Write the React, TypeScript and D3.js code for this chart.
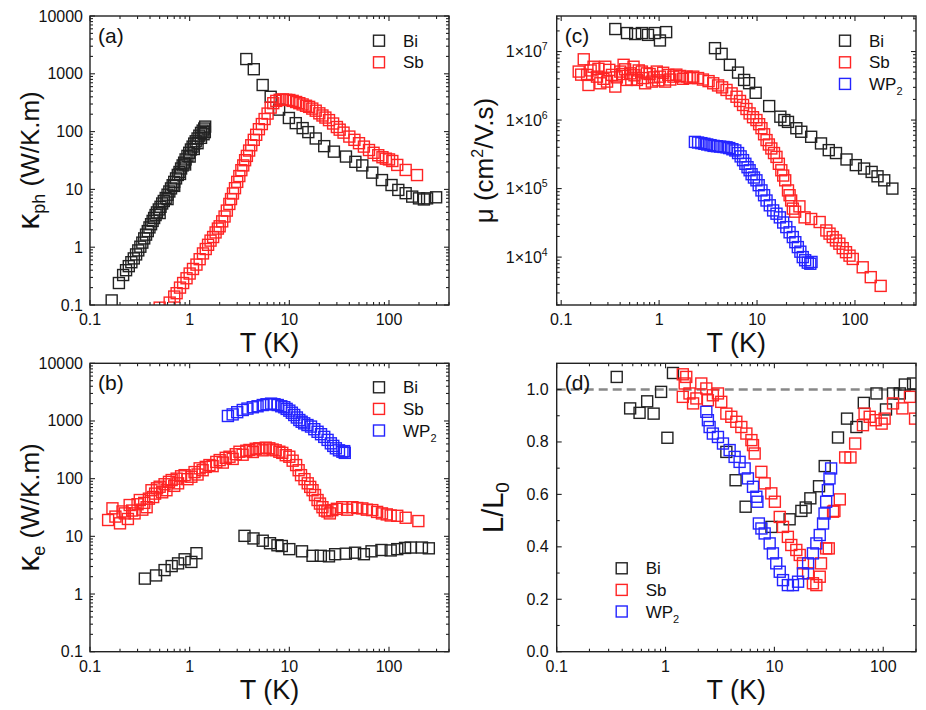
import React from 'react';
import * as d3 from 'd3';

const FONT = "'Liberation Sans', Arial, Helvetica, sans-serif";
const BLACK = '#222';
const RED = '#ff2424';
const BLUE = '#2424ff';

// ---- (a) phonon thermal conductivity, W/K.m
const aBiT = [0.165, 0.195, 0.215, 0.23, 0.245, 0.26, 0.275, 0.29, 0.305, 0.32, 0.335, 0.35, 0.365, 0.38, 0.395, 0.41, 0.425, 0.44, 0.455, 0.47, 0.49, 0.51, 0.53, 0.55, 0.575, 0.6, 0.625, 0.65, 0.675, 0.7, 0.73, 0.76, 0.79, 0.82, 0.85, 0.88, 0.91, 0.95, 0.99, 1.03, 1.07, 1.11, 1.15, 1.2, 1.25, 1.3, 1.35, 1.4, 1.43,
  0.5, 0.6, 0.7, 0.8, 0.9, 1.0, 1.1, 1.2, 1.3, 1.38, 1.42,
  3.7, 4.4, 5.4, 6.5, 7.9, 9.9, 11.6, 13.6, 15.5, 18.4, 22.4, 28, 37, 46, 54, 68, 85, 106, 124, 147, 171, 200, 224, 241, 297];
const aBiK = [0.12, 0.24, 0.33, 0.4, 0.47, 0.55, 0.64, 0.75, 0.88, 1.02, 1.2, 1.42, 1.65, 1.9, 2.2, 2.5, 2.85, 3.2, 3.6, 4.0, 4.5, 5.0, 5.7, 6.3, 7.1, 8.1, 9.2, 10.4, 11.8, 13.5, 15.5, 17.8, 20, 23, 26, 29, 33, 38, 43, 49, 55, 62, 68, 76, 85, 95, 104, 113, 122,
  3.9, 6.8, 11.5, 18.5, 27, 37, 50, 63, 78, 90, 98,
  1800, 1200, 640, 400, 240, 172, 140, 115, 98, 76, 56, 45, 37, 30, 26, 19.5, 14.5, 11.9, 9.8, 8.6, 7.5, 7.0, 6.7, 7.0, 7.3];
const aSbT = [0.5, 0.63, 0.7, 0.74, 0.8, 0.86, 0.93, 1.0, 1.08, 1.17, 1.26, 1.36, 1.45, 1.53, 1.62, 1.72, 1.82, 1.92, 2.0, 2.12, 2.24, 2.36, 2.5, 2.6, 2.72, 2.85, 3.0, 3.15, 3.3, 3.45, 3.6, 3.75, 3.95, 4.15, 4.4, 4.65, 4.95, 5.3, 5.65, 6.05, 6.5, 6.9, 7.4, 8.0, 8.6, 9.3, 10.0, 10.8, 11.7, 12.6, 13.6, 14.7, 15.8, 17, 18.4, 20, 21.5, 23, 25, 27.5, 30, 32, 35, 40, 45, 50, 56, 63, 70, 78, 86, 93, 100, 108, 121, 147, 191];
const aSbK = [0.09, 0.11, 0.14, 0.16, 0.2, 0.24, 0.29, 0.35, 0.42, 0.5, 0.62, 0.78, 0.93, 1.1, 1.3, 1.5, 1.8, 2.1, 2.3, 2.8, 3.4, 4.3, 5.6, 6.8, 8.5, 10.5, 13.5, 17, 21.5, 26, 32, 38, 47, 58, 72, 88, 110, 135, 165, 205, 260, 310, 340, 355, 360, 355, 352, 340, 325, 310, 295, 280, 268, 250, 230, 207, 190, 175, 158, 138, 120, 108, 96, 82, 72, 63, 55, 48, 43, 39, 36, 34, 33, 31, 26.5, 21.7, 17.7];

// ---- (b) electronic thermal conductivity, W/K.m
const bBiT = [0.355, 0.46, 0.56, 0.66, 0.765, 0.89, 1.04, 1.17, 3.55, 4.37, 5.41, 6.4, 7.6, 8.4, 10, 13.4, 17.1, 20.7, 25, 28.8, 36.9, 45.7, 56, 66.8, 84, 104, 121, 145, 165, 214, 251];
const bBiK = [1.85, 2.1, 2.6, 3.05, 3.4, 4.0, 3.6, 5.1, 10.2, 9.2, 8.4, 7.6, 7.0, 6.8, 6.0, 5.5, 4.6, 4.6, 4.5, 4.9, 5.0, 5.2, 4.9, 5.5, 5.8, 5.7, 6.0, 6.3, 6.4, 6.4, 6.2];
const bSbT = [0.152, 0.168, 0.18, 0.2, 0.212, 0.224, 0.24, 0.25, 0.265, 0.28, 0.3, 0.316, 0.335, 0.35, 0.37, 0.39, 0.414, 0.43, 0.45, 0.47, 0.5, 0.53, 0.56, 0.585, 0.62, 0.66, 0.7, 0.74, 0.765, 0.82, 0.89, 0.95, 1.04, 1.12, 1.2, 1.26, 1.35, 1.45, 1.58, 1.7, 1.85, 2.0, 2.15, 2.3, 2.51, 2.7, 2.9, 3.16, 3.4, 3.7, 3.98, 4.3, 4.6, 5.0, 5.4, 5.8, 6.3, 6.8, 7.3, 7.94, 8.5, 9.2, 10, 10.8, 11.7, 12.4, 13.1, 14.2, 15.3, 16.2, 17.1, 18.1, 19.2, 20.3, 21.5, 22.7, 24.1, 25.5, 27, 30, 34, 38, 43, 48, 54, 60, 68, 76, 85, 95, 104, 121, 147, 197];
const bSbK = [19.2, 30.6, 22, 16.8, 27, 25, 20, 34.9, 28, 25, 36, 42.6, 29, 38, 32, 45, 63, 48, 55, 68, 72.5, 58, 80, 63, 88, 94.6, 75, 100, 83, 110, 115, 98, 108, 130, 118, 151, 140, 160, 172, 165, 195, 210, 190, 230, 240, 220, 265, 293, 260, 305, 314, 290, 330, 336, 310, 345, 336, 320, 310, 293, 280, 255, 240, 205, 172, 140, 115, 98, 83, 72, 63, 52, 42.6, 37, 32, 28, 27, 25, 28.5, 30, 32, 29, 32, 31, 30.5, 29, 28.5, 26.5, 25, 24, 23, 22.7, 21, 18.4];
const bWpT = [2.42, 2.7, 3.0, 3.41, 3.8, 4.3, 4.8, 5.41, 5.9, 6.56, 7.1, 7.65, 8.3, 8.9, 9.4, 10, 10.6, 11.2, 11.9, 12.6, 13.3, 14.1, 15.2, 16.5, 17.8, 19.2, 20.8, 22.4, 24.2, 26.1, 27.6, 29.3, 31.5, 34.1, 35.5, 36];
const bWpK = [1220, 1300, 1420, 1550, 1640, 1730, 1800, 1890, 1950, 2000, 1950, 1890, 1800, 1730, 1620, 1510, 1390, 1270, 1150, 1040, 970, 910, 850, 800, 720, 650, 590, 530, 470, 410, 370, 336, 310, 293, 300, 280];

// ---- (c) mobility, cm2/V.s
const cBiT = [0.357, 0.47, 0.57, 0.667, 0.77, 0.9, 1.02, 1.18, 3.72, 4.35, 5.28, 6.4, 7.38, 8.3, 9.68, 13.3, 17.3, 19, 20.7, 25.2, 28.3, 35.7, 45, 54, 64, 82, 102, 124, 148, 170, 199, 241];
const cBiMu = [2.13e7, 1.86e7, 1.8e7, 1.86e7, 1.75e7, 1.86e7, 1.45e7, 1.92e7, 1.12e7, 9.25e6, 6.4e6, 4.93e6, 3.85e6, 3.45e6, 2.5e6, 1.6e6, 1.12e6, 1.0e6, 9.4e5, 7.6e5, 6.75e5, 5.7e5, 4.56e5, 3.64e5, 3.3e5, 2.66e5, 2.2e5, 1.96e5, 1.75e5, 1.51e5, 1.32e5, 1.0e5];
const cSbT = [0.151, 0.16, 0.17, 0.184, 0.19, 0.2, 0.214, 0.232, 0.24, 0.251, 0.27, 0.282, 0.294, 0.31, 0.33, 0.357, 0.37, 0.401, 0.42, 0.434, 0.45, 0.469, 0.507, 0.52, 0.548, 0.56, 0.593, 0.62, 0.667, 0.69, 0.72, 0.75, 0.8, 0.843, 0.88, 0.947, 0.98, 1.02, 1.1, 1.15, 1.24, 1.3, 1.4, 1.5, 1.64, 1.75, 1.91, 2.05,
  2.23, 2.5, 2.8, 3.2, 3.57, 4.0, 4.4, 4.88, 5.5, 6.17, 6.7, 7.2, 7.8, 8.4, 9.1, 9.86, 10.5, 11.1, 11.8, 12.5, 13.2, 14.0, 14.9, 15.8, 16.7, 17.7, 18.5, 19.4, 20.7, 21.5, 22.3, 23.2, 24.5, 27.1, 30.6, 35.7, 43.6, 51, 55, 59.3, 64, 69.3, 75, 81, 88, 95, 120, 145, 183];
const cSbMu = [5.1e6, 4.6e6, 7.7e6, 4.56e6, 3.25e6, 5.3e6, 6.0e6, 4.3e6, 5.6e6, 3.44e6, 4.0e6, 6.0e6, 3.64e6, 5.4e6, 4.56e6, 3.08e6, 4.2e6, 5.1e6, 4.7e6, 6.4e6, 5.5e6, 3.85e6, 4.8e6, 3.9e6, 6.0e6, 4.5e6, 3.85e6, 5.3e6, 5.1e6, 4.1e6, 3.44e6, 4.8e6, 4.7e6, 3.64e6, 4.2e6, 5.1e6, 3.8e6, 4.3e6, 4.9e6, 3.64e6, 4.56e6, 3.9e6, 4.3e6, 4.6e6, 4.4e6, 4.0e6, 4.3e6, 4.1e6,
  4.3e6, 4.1e6, 3.9e6, 3.7e6, 3.44e6, 3.2e6, 3.0e6, 2.75e6, 2.45e6, 2.19e6, 1.9e6, 1.66e6, 1.45e6, 1.25e6, 1.1e6, 1.0e6, 8.7e5, 7.6e5, 6.2e5, 5.1e5, 4.4e5, 3.85e5, 3.3e5, 2.9e5, 2.3e5, 1.85e5, 1.55e5, 1.32e5, 9.4e4, 8.0e4, 6.7e4, 5.1e4, 4.6e4, 5.5e4, 3.8e4, 3.6e4, 3.25e4, 2.45e4, 2.2e4, 1.96e4, 1.75e4, 1.57e4, 1.35e4, 1.18e4, 1.05e4, 9.4e3, 7.1e3, 5.1e3, 3.8e3];
const cWpT = [2.32, 2.5, 2.7, 2.9, 3.1, 3.35, 3.6, 3.9, 4.2, 4.55, 4.88, 5.2, 5.6, 6.0, 6.4, 6.8, 7.2, 7.6, 8.0, 8.4, 8.8, 9.3, 9.86, 10.4, 11.1, 11.8, 12.5, 13.5, 14.6, 15.8, 17.1, 18.5, 19.9, 21.5, 23.2, 24.6, 26.1, 27.7, 29.3, 31, 33, 35, 36];
const cWpMu = [4.8e5, 4.7e5, 4.6e5, 4.5e5, 4.4e5, 4.3e5, 4.2e5, 4.15e5, 4.1e5, 4.05e5, 4.0e5, 3.9e5, 3.75e5, 3.6e5, 3.3e5, 2.95e5, 2.6e5, 2.3e5, 2.05e5, 1.85e5, 1.62e5, 1.45e5, 1.32e5, 1.12e5, 9.4e4, 8.0e4, 6.7e4, 5.7e4, 4.8e4, 4.3e4, 3.8e4, 3.2e4, 2.74e4, 2.3e4, 1.96e4, 1.65e4, 1.4e4, 1.2e4, 1.0e4, 9.0e3, 8.3e3, 8.0e3, 8.5e3];

// ---- (d) Lorenz ratio L/L0
const dBiT = [0.356, 0.473, 0.577, 0.678, 0.777, 0.91, 1.04, 1.17, 3.62, 4.4, 5.44, 9.4, 13.8, 17.7, 19.4, 21.4, 25.7, 29, 38.4, 46.5, 56.7, 66.3, 86.7, 106, 123, 142, 158, 188];
const dBiL = [1.048, 0.928, 0.911, 0.955, 0.908, 0.991, 0.816, 1.063, 0.762, 0.654, 0.553, 0.476, 0.505, 0.537, 0.55, 0.585, 0.631, 0.708, 0.817, 0.889, 0.857, 0.949, 0.985, 0.924, 0.985, 0.985, 1.019, 1.023];
const dSbT = [1.44, 1.55, 1.5, 1.44, 1.66, 1.79, 1.92, 2.13, 2.37, 2.45, 2.72, 3.03, 3.25, 3.62, 4.02, 4.47, 4.97, 5.53, 6.15, 6.36, 6.59, 7.59, 8.14, 9.37, 10.1, 11.2, 12, 13.3, 14.3, 15.9, 17.1, 18.3, 20.4, 22.6, 24.3, 26.1, 26.8, 29.9, 31.6, 34.6, 35.6, 39.9, 44.7, 50, 55.2, 65.1, 67.4, 75.1, 85.3, 96.7, 103, 123, 150, 176, 196];
const dSbL = [1.058, 1.048, 1.023, 0.972, 0.985, 0.947, 0.966, 1.023, 1.004, 0.959, 0.978, 0.985, 0.953, 0.908, 0.896, 0.877, 0.857, 0.832, 0.807, 0.788, 0.756, 0.686, 0.642, 0.604, 0.572, 0.514, 0.476, 0.438, 0.407, 0.388, 0.369, 0.337, 0.299, 0.261, 0.254, 0.286, 0.337, 0.394, 0.394, 0.534, 0.537, 0.581, 0.741, 0.741, 0.794, 0.864, 0.908, 0.896, 0.883, 0.87, 0.889, 0.947, 0.928, 0.972, 0.889];
const dWpT = [2.37, 2.45, 2.54, 2.72, 3.03, 3.37, 3.88, 4.31, 4.79, 5.33, 5.71, 6.36, 6.83, 6.98, 7.2, 7.6, 8.14, 9.05, 9.69, 10.4, 11.2, 12, 13.3, 14.8, 16.5, 18.3, 20.4, 22.6, 24.3, 26.1, 28, 28.9, 29.9, 31, 32.1, 33.2];
const dWpL = [0.915, 0.883, 0.857, 0.832, 0.819, 0.794, 0.769, 0.743, 0.724, 0.699, 0.661, 0.629, 0.591, 0.572, 0.489, 0.47, 0.451, 0.413, 0.375, 0.337, 0.305, 0.273, 0.254, 0.254, 0.267, 0.299, 0.337, 0.375, 0.413, 0.445, 0.489, 0.527, 0.572, 0.616, 0.661, 0.699];

const xMajor = [0.1, 1, 10, 100];
const logLabels = ['0.1', '1', '10', '100', '1000', '10000'];
const logValues = [0.1, 1, 10, 100, 1000, 10000];
const muValues = [1e4, 1e5, 1e6, 1e7];
const muExp = ['4', '5', '6', '7'];
const lValues = [0, 0.2, 0.4, 0.6, 0.8, 1.0];
const lLabels = ['0.0', '0.2', '0.4', '0.6', '0.8', '1.0'];

type Series = { name: string; t: number[]; v: number[]; color: string };

function logTicks(d0: number, d1: number) {
  const out: { v: number; major: boolean }[] = [];
  for (let e = Math.floor(Math.log10(d0)); e <= Math.ceil(Math.log10(d1)); e++) {
    for (let m = 1; m < 10; m++) {
      const v = m * Math.pow(10, e);
      if (v >= d0 * 0.999 && v <= d1 * 1.001) out.push({ v, major: m === 1 });
    }
  }
  return out;
}

const MS = 11;
const TICK_FS = 16;

function Panel(props: any) {
  const { id, left, right, top, bottom, xDomain, yDomain, yLog, series, label, legendX, legendY, yTitle, yLabels, dashed } = props;
  const x = d3.scaleLog().domain(xDomain).range([left, right]);
  const y = yLog
    ? d3.scaleLog().domain(yDomain).range([bottom, top])
    : d3.scaleLinear().domain(yDomain).range([bottom, top]);
  const xt = logTicks(xDomain[0], xDomain[1]);
  const yt = yLog
    ? logTicks(yDomain[0], yDomain[1])
    : d3.range(0, 11).map((i) => ({ v: i / 10, major: i % 2 === 0 }));
  const tk = (major: boolean) => (major ? 5 : 3);
  return (
    <g fontFamily={FONT}>
      <defs>
        <clipPath id={id}>
          <rect x={left} y={top} width={right - left} height={bottom - top} />
        </clipPath>
      </defs>
      {dashed && (
        <line x1={left} x2={right} y1={y(1)} y2={y(1)} stroke="#888" strokeWidth={2.4} strokeDasharray="9,5" />
      )}
      <g clipPath={`url(#${id})`}>
        {series.map((s: Series) => (
          <g key={s.name}>
            {s.t.map((t, i) => (
              <rect key={i} x={x(t) - MS / 2} y={y(s.v[i]) - MS / 2} width={MS} height={MS}
                fill="none" stroke={s.color} strokeWidth={1.4} />
            ))}
          </g>
        ))}
      </g>
      <rect x={left} y={top} width={right - left} height={bottom - top} fill="none" stroke="#222" strokeWidth={1.4} />
      {xt.map((d, i) => (
        <g key={'x' + i} stroke="#222" strokeWidth={1.1}>
          <line x1={x(d.v)} x2={x(d.v)} y1={bottom} y2={bottom - tk(d.major)} />
          <line x1={x(d.v)} x2={x(d.v)} y1={top} y2={top + tk(d.major)} />
        </g>
      ))}
      {yt.map((d, i) => (
        <g key={'y' + i} stroke="#222" strokeWidth={1.1}>
          <line x1={left} x2={left + tk(d.major)} y1={y(d.v)} y2={y(d.v)} />
          <line x1={right} x2={right - tk(d.major)} y1={y(d.v)} y2={y(d.v)} />
        </g>
      ))}
      {xMajor.filter((v) => v >= xDomain[0] * 0.999).map((v) => (
        <text key={'xl' + v} x={x(v)} y={bottom + 20} textAnchor="middle" fontSize={TICK_FS} fill="#111">
          {v < 1 ? '0.1' : String(v)}
        </text>
      ))}
      {yLabels(y, left)}
      <text x={(left + right) / 2} y={bottom + 47} textAnchor="middle" fontSize={27} fill="#111">T (K)</text>
      {yTitle}
      <text x={left + 8} y={top + 27} fontSize={21} fill="#111">{label}</text>
      {series.map((s: Series, i: number) => (
        <g key={'lg' + s.name}>
          <rect x={legendX - MS / 2} y={legendY + i * 21.6 - MS / 2} width={MS} height={MS} fill="none" stroke={s.color} strokeWidth={1.4} />
          <text x={legendX + 24} y={legendY + i * 21.6 + 6} fontSize={17} fill="#111">
            {s.name === 'WP2' ? (<>WP<tspan fontSize={11} dy={5}>2</tspan></>) : s.name}
          </text>
        </g>
      ))}
    </g>
  );
}

const logYLabels = (y: any, left: number) =>
  logValues.map((v, i) => (
    <text key={'yl' + v} x={left - 7} y={y(v) + 5.5} textAnchor="end" fontSize={TICK_FS} fill="#111">{logLabels[i]}</text>
  ));

const muYLabels = (y: any, left: number) =>
  muValues.map((v, i) => (
    <text key={'yl' + v} x={left - 9} y={y(v) + 5.5} textAnchor="end" fontSize={TICK_FS} fill="#111">
      1×10<tspan fontSize={10.5} dy={-7}>{muExp[i]}</tspan>
    </text>
  ));

const linYLabels = (y: any, left: number) =>
  lValues.map((v, i) => (
    <text key={'yl' + v} x={left - 8} y={y(v) + 5.5} textAnchor="end" fontSize={TICK_FS} fill="#111">{lLabels[i]}</text>
  ));

export default function App() {
  const L1 = 90, R1 = 449, L2 = 556.7, R2 = 916;
  const T1 = 16, B1 = 305, T2 = 363.3, B2 = 651.7;
  return (
    <svg width={926} height={710} style={{ position: 'absolute', left: 0, top: 0, background: '#fff' }}>
      <Panel id="pa" left={L1} right={R1} top={T1} bottom={B1} xDomain={[0.1, 400]} yDomain={[0.1, 10000]} yLog
        series={[{ name: 'Bi', t: aBiT, v: aBiK, color: BLACK }, { name: 'Sb', t: aSbT, v: aSbK, color: RED }]}
        label="(a)" legendX={379} legendY={40.7} yLabels={logYLabels}
        yTitle={
          <text transform={`translate(39,${(T1 + B1) / 2}) rotate(-90)`} textAnchor="middle" fontSize={26} fill="#111">
            <tspan fontSize={32}>κ</tspan><tspan fontSize={18} dy={6}>ph</tspan><tspan dy={-6}> (W/K.m)</tspan>
          </text>
        } />
      <Panel id="pb" left={L1} right={R1} top={T2} bottom={B2} xDomain={[0.1, 400]} yDomain={[0.1, 10000]} yLog
        series={[{ name: 'Bi', t: bBiT, v: bBiK, color: BLACK }, { name: 'Sb', t: bSbT, v: bSbK, color: RED }, { name: 'WP2', t: bWpT, v: bWpK, color: BLUE }]}
        label="(b)" legendX={379} legendY={387.3} yLabels={logYLabels}
        yTitle={
          <text transform={`translate(39,${(T2 + B2) / 2}) rotate(-90)`} textAnchor="middle" fontSize={26} fill="#111">
            <tspan fontSize={32}>κ</tspan><tspan fontSize={18} dy={6}>e</tspan><tspan dy={-6}> (W/K.m)</tspan>
          </text>
        } />
      <Panel id="pc" left={L2} right={R2} top={T1} bottom={B1} xDomain={[0.09, 420]} yDomain={[2000, 3.3e7]} yLog
        series={[{ name: 'Bi', t: cBiT, v: cBiMu, color: BLACK }, { name: 'Sb', t: cSbT, v: cSbMu, color: RED }, { name: 'WP2', t: cWpT, v: cWpMu, color: BLUE }]}
        label="(c)" legendX={845} legendY={40.7} yLabels={muYLabels}
        yTitle={
          <text transform={`translate(493,${(T1 + B1) / 2}) rotate(-90)`} textAnchor="middle" fontSize={26} fill="#111">
            μ (cm<tspan fontSize={16} dy={-10}>2</tspan><tspan dy={10}>/V.s)</tspan>
          </text>
        } />
      <Panel id="pd" left={L2} right={R2} top={T2} bottom={B2} xDomain={[0.1, 200]} yDomain={[0, 1.1]} dashed
        series={[{ name: 'Bi', t: dBiT, v: dBiL, color: BLACK }, { name: 'Sb', t: dSbT, v: dSbL, color: RED }, { name: 'WP2', t: dWpT, v: dWpL, color: BLUE }]}
        label="(d)" legendX={621.7} legendY={568.3} yLabels={linYLabels}
        yTitle={
          <text transform={`translate(503,${(T2 + B2) / 2}) rotate(-90)`} textAnchor="middle" fontSize={29} fill="#111">
            L/L<tspan fontSize={19} dy={6}>0</tspan>
          </text>
        } />
    </svg>
  );
}
